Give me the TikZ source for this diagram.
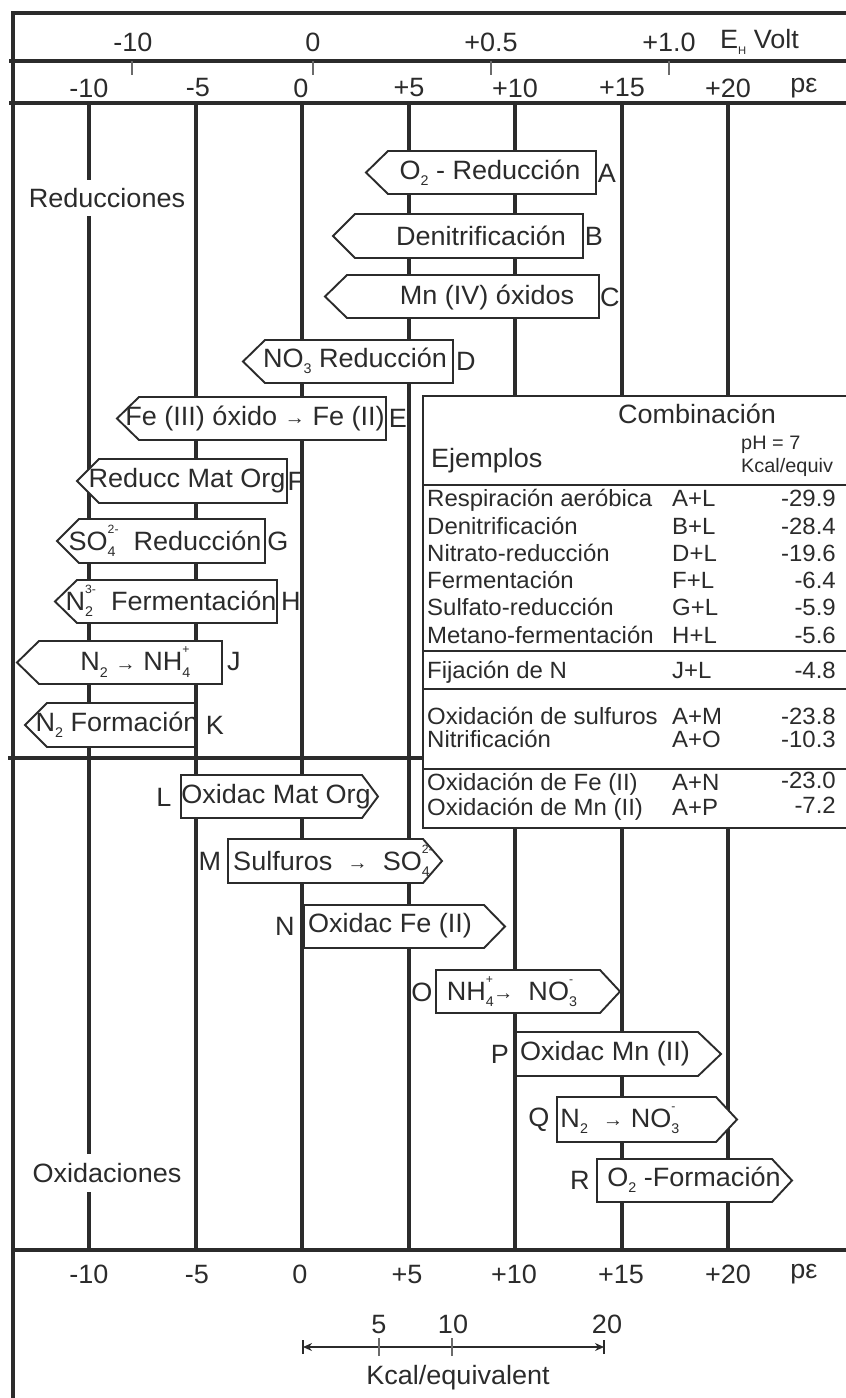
\documentclass[tikz,border=0pt]{standalone}
\usepackage{fontspec}
\setmainfont{Liberation Sans}[FakeStretch=1.02]
\usetikzlibrary{arrows.meta}
\definecolor{ink}{HTML}{2B2B2B}
\newcommand\lsub[1]{\raisebox{-0.45ex}{\fontsize{14}{14}\selectfont #1}}
\newcommand\lsup[1]{\raisebox{1.2ex}{\fontsize{12}{12}\selectfont #1}}
\newcommand\lsubsup[2]{\rlap{\lsub{#1}}\lsup{#2}}
\newcommand\arr{\mbox{\raisebox{0.05ex}{\fontsize{20}{20}\selectfont →}}}
\newcommand\lpent[4]{\draw[pent] (#1,{(#3+#4)/2}) -- ({#1+22},#3) -- (#2,#3) -- (#2,#4) -- ({#1+22},#4) -- cycle;}
\newcommand\rpent[5]{\draw[pent] (#1,#4) -- (#2,#4) -- (#3,{(#4+#5)/2}) -- (#2,#5) -- (#1,#5) -- cycle;}
\begin{document}
\begin{tikzpicture}[x=1pt,y=-1pt,
  frame/.style={draw=ink, line width=4pt},
  gridline/.style={draw=ink, line width=3.2pt},
  pent/.style={draw=ink, line width=1.9pt, fill=white, line join=miter},
  tline/.style={draw=ink, line width=1.8pt},
  tickline/.style={draw=ink!70, line width=1.2pt},
  lbl/.style={font=\fontsize{26.5}{29}\selectfont, text=ink, inner sep=0pt},
  tbl/.style={font=\fontsize{23.5}{25}\selectfont, text=ink, inner sep=0pt, anchor=base west},
  tval/.style={font=\fontsize{23.5}{25}\selectfont, text=ink, inner sep=0pt, anchor=base east},
  small/.style={font=\fontsize{19.5}{21}\selectfont, text=ink, inner sep=0pt, anchor=west}]
\useasboundingbox (0,0) rectangle (846,1398);
% vertical grid lines
\foreach \gx in {89,196,302,409,515,622,728} \draw[gridline] (\gx,103) -- (\gx,1250);
% frame
\draw[frame] (13,1402) -- (13,13) -- (850,13);
\draw[frame] (9,61) -- (850,61);
\draw[frame] (9,103) -- (850,103);
\draw[frame] (8,758) -- (423,758);
\draw[frame] (13,1250) -- (850,1250);
% E_H ticks
\foreach \tx in {132,313,491,669} \draw[tickline] (\tx,61) -- (\tx,75);
% top E_H row
\node[lbl] (eh1) at (133,42) {-10};
\node[lbl] (eh2) at (313,42) {0};
\node[lbl] (eh3) at (491,42) {+0.5};
\node[lbl] (eh4) at (669,42) {+1.0};
\node[lbl, anchor=west] (ehv) at (720,42) {E\lsub{\fontsize{11}{11}\selectfont H} Volt};
% top pe row
\node[lbl] (pt1) at (89,88) {-10};
\node[lbl] (pt2) at (198,88) {-5};
\node[lbl] (pt3) at (301,88) {0};
\node[lbl] (pt4) at (409,88) {+5};
\node[lbl] (pt5) at (515,88) {+10};
\node[lbl] (pt6) at (622,88) {+15};
\node[lbl] (pt7) at (728,88) {+20};
\node[lbl] (pt8) at (804,88) {pε};
% side labels
\node[lbl, fill=white, minimum height=36pt, inner xsep=1pt] (red) at (107,198) {Reducciones};
\node[lbl, fill=white, minimum height=38pt, inner xsep=1pt] (oxi) at (107,1173) {Oxidaciones};
% reduction boxes
\lpent{366}{596}{151}{194}
\lpent{333}{583}{214}{258}
\lpent{325}{599}{275}{318}
\lpent{243}{453}{340}{383}
\lpent{117}{386}{397}{440}
\lpent{77}{287}{459}{503}
\lpent{57}{265}{519}{563}
\lpent{55}{277}{580}{623}
\lpent{17}{222}{641}{684}
\lpent{25}{195}{703}{747}
\node[lbl] (A) at (490,173) {O\lsub{2} - Reducción};
\node[lbl] (B) at (481,236) {Denitrificación};
\node[lbl] (C) at (487,297) {Mn (IV) óxidos};
\node[lbl] (D) at (355,361) {NO\lsub{3} Reducción};
\node[lbl] (E) at (255,418) {Fe (III) óxido \arr{} Fe (II)};
\node[lbl] (F) at (187,481) {Reducc Mat Org};
\node[lbl] (G) at (165,541) {SO\lsubsup{4}{2-}\ \ Reducción};
\node[lbl] (H) at (171,601) {N\lsubsup{2}{3-}\ \ Fermentación};
\node[lbl] (J) at (135,662) {N\lsub{2} \arr{} NH\lsubsup{4}{+}};
\node[lbl] (K) at (117,725) {N\lsub{2} Formación};
\node[lbl] (lA) at (607,173) {A};
\node[lbl] (lB) at (594,236) {B};
\node[lbl] (lC) at (610,297) {C};
\node[lbl] (lD) at (466,361) {D};
\node[lbl] (lE) at (398,418) {E};
\node[lbl] (lF) at (296,481) {F};
\node[lbl] (lG) at (278,541) {G};
\node[lbl] (lH) at (291,601) {H};
\node[lbl] (lJ) at (234,662) {J};
\node[lbl] (lK) at (215,725) {K};
% oxidation boxes
\rpent{181}{362}{378}{775}{818}
\rpent{228}{423}{442}{839}{883}
\rpent{304}{484}{505}{905}{948}
\rpent{436}{600}{620}{970}{1013}
\rpent{516}{698}{721}{1032}{1076}
\rpent{557}{716}{737}{1097}{1142}
\rpent{597}{772}{792}{1159}{1202}
\node[lbl] (L) at (276,797) {Oxidac Mat Org};
\node[lbl] (M) at (333,861) {Sulfuros \ \arr\ \ SO\lsubsup{4}{2-}};
\node[lbl] (N) at (390,926) {Oxidac Fe (II)};
\node[lbl] (O) at (510,992) {NH\lsubsup{4}{+}\arr\ \ NO\lsubsup{3}{-}};
\node[lbl] (P) at (605,1054) {Oxidac Mn (II)};
\node[lbl] (Q) at (618,1120) {N\lsub{2} \ \arr{} NO\lsubsup{3}{-}};
\node[lbl] (R) at (694,1180) {O\lsub{2} -Formación};
\node[lbl] (lL) at (164,797) {L};
\node[lbl] (lM) at (210,861) {M};
\node[lbl] (lN) at (285,926) {N};
\node[lbl] (lO) at (422,992) {O};
\node[lbl] (lP) at (500,1054) {P};
\node[lbl] (lQ) at (539,1120) {Q};
\node[lbl] (lR) at (580,1180) {R};
% table
\draw[tline, fill=white] (423,396) rectangle (852,828);
\draw[tline] (423,485) -- (852,485);
\draw[tline] (423,651) -- (852,651);
\draw[tline] (423,689) -- (852,689);
\draw[tline] (423,769) -- (852,769);
\node[lbl] (comb) at (697,414) {Combinación};
\node[lbl, anchor=west] (ejem) at (431,461) {Ejemplos};
\node[small] (ph) at (741,445) {pH = 7};
\node[small] (kcq) at (741,467) {Kcal/equiv};
\node[tbl] (r1) at (427,506) {Respiración aeróbica};
\node[tbl] (r2) at (427,534) {Denitrificación};
\node[tbl] (r3) at (427,561) {Nitrato-reducción};
\node[tbl] (r4) at (427,588) {Fermentación};
\node[tbl] (r5) at (427,615) {Sulfato-reducción};
\node[tbl] (r6) at (427,643) {Metano-fermentación};
\node[tbl] (r7) at (427,678) {Fijación de N};
\node[tbl] (r8) at (427,724) {Oxidación de sulfuros};
\node[tbl] (r9) at (427,747) {Nitrificación};
\node[tbl] (r10) at (427,790) {Oxidación de Fe (II)};
\node[tbl] (r11) at (427,815) {Oxidación de Mn (II)};
\node[tbl] (c1) at (672,506) {A+L};
\node[tbl] (c2) at (672,534) {B+L};
\node[tbl] (c3) at (672,561) {D+L};
\node[tbl] (c4) at (672,588) {F+L};
\node[tbl] (c5) at (672,615) {G+L};
\node[tbl] (c6) at (672,643) {H+L};
\node[tbl] (c7) at (672,678) {J+L};
\node[tbl] (c8) at (672,724) {A+M};
\node[tbl] (c9) at (672,747) {A+O};
\node[tbl] (c10) at (672,790) {A+N};
\node[tbl] (c11) at (672,815) {A+P};
\node[tval] (v1) at (836,506) {-29.9};
\node[tval] (v2) at (836,534) {-28.4};
\node[tval] (v3) at (836,561) {-19.6};
\node[tval] (v4) at (836,588) {-6.4};
\node[tval] (v5) at (836,615) {-5.9};
\node[tval] (v6) at (836,643) {-5.6};
\node[tval] (v7) at (836,678) {-4.8};
\node[tval] (v8) at (836,724) {-23.8};
\node[tval] (v9) at (836,747) {-10.3};
\node[tval] (v10) at (836,788) {-23.0};
\node[tval] (v11) at (836,813) {-7.2};
% bottom pe row
\node[lbl] (pb1) at (89,1274) {-10};
\node[lbl] (pb2) at (197,1274) {-5};
\node[lbl] (pb3) at (300,1274) {0};
\node[lbl] (pb4) at (407,1274) {+5};
\node[lbl] (pb5) at (514,1274) {+10};
\node[lbl] (pb6) at (621,1274) {+15};
\node[lbl] (pb7) at (728,1274) {+20};
\node[lbl] (pb8) at (804,1274) {pε};
% kcal scale
\coordinate (sL) at (303,1347);
\coordinate (sR) at (604,1347);
\coordinate (t5) at (379,1347);
\coordinate (t10) at (452,1347);
\draw[draw=ink, line width=1.3pt, {Stealth[length=9pt,width=8pt]}-{Stealth[length=9pt,width=8pt]}] (sL) -- (sR);
\draw[draw=ink, line width=1.8pt] ([yshift=-7pt]sL) -- ([yshift=7pt]sL);
\draw[draw=ink, line width=1.8pt] ([yshift=-7pt]sR) -- ([yshift=7pt]sR);
\draw[tickline] ([yshift=-9pt]t5) -- ([yshift=9pt]t5);
\draw[tickline] ([yshift=-9pt]t10) -- ([yshift=9pt]t10);
\node[lbl] (k5) at (379,1324) {5};
\node[lbl] (k10) at (453,1324) {10};
\node[lbl] (k20) at (607,1324) {20};
\node[lbl] (kcal) at (458,1378) {Kcal/equivalent};
\end{tikzpicture}
\end{document}
